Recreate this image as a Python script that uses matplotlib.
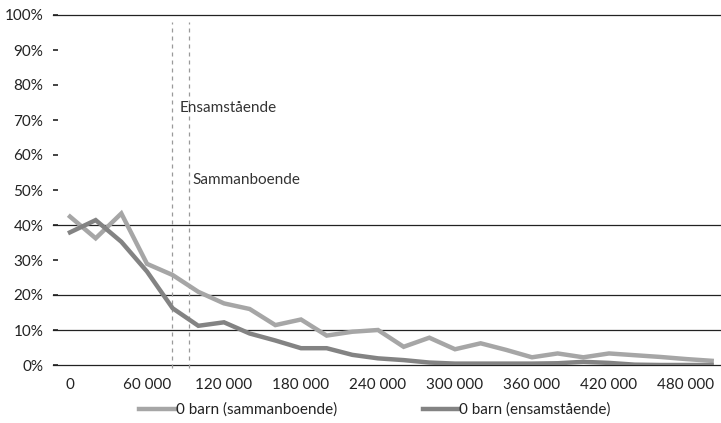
import numpy as np
import matplotlib.pyplot as plt

plt.rcParams['font.family'] = ['Lato', 'DejaVu Sans']

# income levels (kr), one point per 20 000
inkomst = np.arange(0, 520000, 20000)

# share (%)
sammanboende = [42.4, 36.2, 43.3, 28.9, 25.7, 20.9, 17.6, 16.0, 11.4, 13.0,
                8.4, 9.5, 10.0, 5.2, 7.8, 4.5, 6.2, 4.3, 2.2, 3.3,
                2.2, 3.3, 2.8, 2.3, 1.7, 1.2]
ensamstaende = [37.9, 41.4, 35.2, 26.7, 16.2, 11.2, 12.2, 9.0, 7.0, 4.8,
                4.8, 2.9, 1.9, 1.4, 0.7, 0.4, 0.4, 0.4, 0.4, 0.5,
                0.9, 0.6, 0.1, 0.0, 0.0, 0.0]

xticks = np.arange(0, 540000, 60000)
yticks = np.arange(0, 110, 10)
gridlines = [0, 10, 20, 40, 100]

# threshold markers
grans_ensam = 79500
grans_samman = 92700

fig = plt.figure(figsize=(7.21, 4.23), dpi=100)
ax = fig.add_axes([53/721, 58/423, 667/721, 350/423])

for g in gridlines:
    ax.axhline(g, color='#222222', lw=0.9, zorder=1, clip_on=False)

ax.plot(inkomst, sammanboende, color='#a6a6a6', lw=3.2, zorder=3,
        solid_joinstyle='miter', label='0 barn (sammanboende)')
ax.plot(inkomst, ensamstaende, color='#838383', lw=3.2, zorder=3,
        solid_joinstyle='miter', label='0 barn (ensamstående)')

for xv in (grans_ensam, grans_samman):
    ax.plot([xv, xv], [-0.8, 98], color='#9a9a9a', lw=0.9,
            dashes=(3.2, 3.2), zorder=2, clip_on=False)

ax.text(85500, 73.4, 'Ensamstående', fontsize=11, va='center', ha='left', color='#333333')
ax.text(95800, 52.9, 'Sammanboende', fontsize=11, va='center', ha='left', color='#333333')

ax.set_xlim(-13250, 506500)
ax.set_ylim(0, 100)
ax.set_xticks(xticks)
ax.set_xticklabels([f'{v:,}'.replace(',', ' ') for v in xticks])
ax.set_yticks(yticks)
ax.set_yticklabels([f'{v}%' for v in yticks])
ax.tick_params(axis='x', length=0, pad=9, labelsize=11, labelcolor='#222222')
ax.tick_params(axis='y', direction='in', length=3.5, width=1.2, color='#222222',
               pad=7, labelsize=11, labelcolor='#222222')
for s in ax.spines.values():
    s.set_visible(False)

fig.legend(loc='center', bbox_to_anchor=(0.52, (423-410)/423),
           ncol=2, frameon=False, fontsize=11, handlelength=2.4,
           handletextpad=0.0, columnspacing=5.6, labelcolor='#222222')

fig.savefig('out.png', dpi=100)
